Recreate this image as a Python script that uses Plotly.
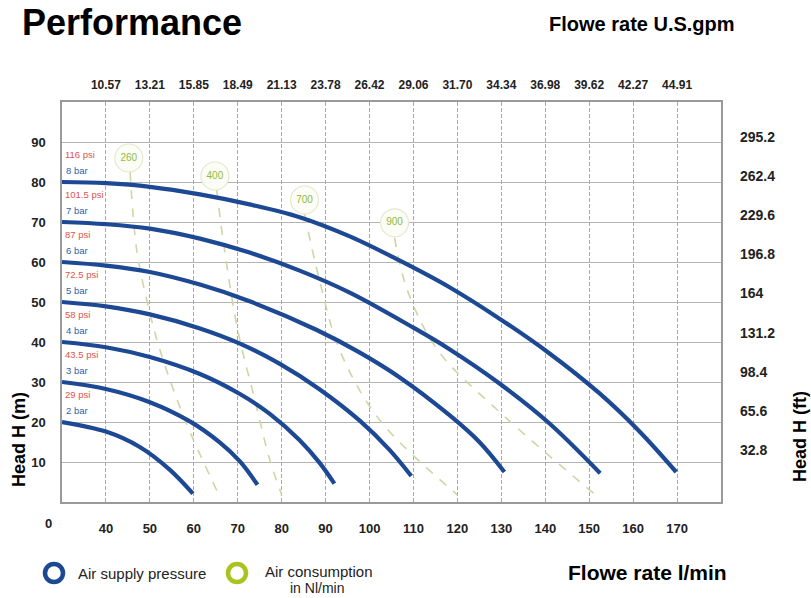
import plotly.graph_objects as go

# ---------------------------------------------------------------- data
# Flow axis: the first grid cell holds 0-40 l/min, the rest is linear
flow_ticks = [40, 50, 60, 70, 80, 90, 100, 110, 120, 130, 140, 150, 160, 170]
gpm_ticks = ["10.57", "13.21", "15.85", "18.49", "21.13", "23.78", "26.42",
             "29.06", "31.70", "34.34", "36.98", "39.62", "42.27", "44.91"]
head_m_ticks = [10, 20, 30, 40, 50, 60, 70, 80, 90]
head_ft_ticks = ["32.8", "65.6", "98.4", "131.2", "164", "196.8", "229.6", "262.4", "295.2"]

bar_labels = ["8 bar", "7 bar", "6 bar", "5 bar", "4 bar", "3 bar", "2 bar"]
psi_labels = ["116 psi", "101.5 psi", "87 psi", "72.5 psi", "58 psi", "43.5 psi", "29 psi"]

# Head (m) against flow (l/min) for each air supply pressure
flow_8bar = [0, 40, 50, 61.4, 72.7, 84.1, 95.5, 106.8, 118.2, 129.5, 140.9, 152.3, 161.4, 169.8]
head_8bar = [80, 79.7, 78.8, 76.9, 74.4, 71.2, 66.4, 60.4, 53.7, 45.9, 37.2, 27.2, 17.7, 7.5]
flow_7bar = [0, 40, 50, 61.4, 72.7, 84.1, 95.5, 109.8, 118.2, 129.5, 140.9, 152.5]
head_7bar = [70, 69.45, 68.35, 65.85, 62.35, 57.85, 52.35, 43.7, 38.2, 29.7, 19.7, 7.2]
flow_6bar = [0, 40, 50, 61.4, 72.7, 88, 97.7, 106.8, 118.2, 125, 130.7]
head_6bar = [60, 59.1, 57.5, 54.35, 50.2, 43.0, 37.4, 31.2, 21.7, 15.0, 7.5]
flow_5bar = [0, 40, 50, 61.4, 70.5, 79.5, 88.6, 97.7, 104.5, 109.5]
head_5bar = [50, 48.9, 46.9, 43.4, 39.6, 34.6, 28.2, 20.4, 13.1, 6.5]
flow_4bar = [0, 40, 50, 61.4, 70.5, 77.3, 84.1, 88.6, 92.0]
head_4bar = [40, 38.7, 36.25, 32, 27, 22.05, 15.45, 9.85, 4.6]
flow_3bar = [0, 40, 50, 59.1, 65.9, 70.5, 74.5]
head_3bar = [30, 28.25, 24.95, 20.15, 14.9, 10.15, 4.3]
flow_2bar = [0, 40, 47.7, 54.5, 59.8]
head_2bar = [20, 17.6, 13.75, 8.1, 2.1]

pressure_flows = [flow_8bar, flow_7bar, flow_6bar, flow_5bar, flow_4bar, flow_3bar, flow_2bar]
pressure_heads = [head_8bar, head_7bar, head_6bar, head_5bar, head_4bar, head_3bar, head_2bar]

# Air consumption (Nl/min) iso-lines
air_labels = ["260", "400", "700", "900"]
air_label_flow = [45.2, 64.8, 85.2, 105.7]
air_label_head = [86, 81.5, 75.5, 69.8]
air_flow_260 = [45.5, 47, 49.3, 52.3, 58, 65.7]
air_head_260 = [82.5, 63, 50.5, 38, 20.5, 1.8]
air_flow_400 = [65.2, 67, 70, 73.9, 77.3, 80]
air_head_400 = [78, 63, 43, 25.5, 10.5, 1.8]
air_flow_700 = [85.2, 88.6, 93.2, 102.3, 120]
air_head_700 = [72, 55.5, 38, 20.5, 1.8]
air_flow_900 = [105.7, 108.6, 115.5, 129.1, 151.4]
air_head_900 = [66, 53, 38, 23, 1.8]
air_flows = [air_flow_260, air_flow_400, air_flow_700, air_flow_900]
air_heads = [air_head_260, air_head_400, air_head_700, air_head_900]


def axis_x(q):
    """Map a flow in l/min onto the chart's broken flow axis."""
    return 30 + q / 4 if q < 40 else q


# ---------------------------------------------------------------- layout helpers
W, H = 811, 598
L, R, T, B = 62, 90, 102, 96
PW, PH = W - L - R, H - T - B


def px(x):
    return (x - L) / PW


def py(y):
    return (T + PH - y) / PH


BLUE = "#1c4894"
GREEN = "#a9c41f"
FONT = "Liberation Sans, Arial, sans-serif"

fig = go.Figure()

for fl, hd in zip(air_flows, air_heads):
    fig.add_trace(go.Scatter(
        x=[axis_x(q) for q in fl], y=hd, mode="lines", line_shape="spline",
        line=dict(color="#cdd7a4", width=1.6, dash="dash"),
        hoverinfo="skip", showlegend=False))

for fl, hd in zip(pressure_flows, pressure_heads):
    fig.add_trace(go.Scatter(
        x=[axis_x(q) for q in fl], y=hd, mode="lines", line_shape="spline",
        line=dict(color=BLUE, width=4.2, smoothing=1.0),
        hoverinfo="skip", showlegend=False))

fig.add_trace(go.Scatter(
    x=[axis_x(q) for q in air_label_flow], y=air_label_head,
    mode="markers+text", text=air_labels, textposition="middle center",
    textfont=dict(family=FONT, size=10, color="#8dbb3c"),
    marker=dict(size=28, color="rgba(252,253,246,0.95)",
                line=dict(color="#e3e9cf", width=1.2)),
    hoverinfo="skip", showlegend=False))

# secondary axes carry the U.S. gpm and feet scales
fig.add_trace(go.Scatter(x=[None], y=[None], xaxis="x2", yaxis="y2",
                         showlegend=False, hoverinfo="skip"))

tick_font = dict(family=FONT, size=13, color="#222222", weight="bold")

fig.update_layout(
    width=W, height=H,
    margin=dict(l=L, r=R, t=T, b=B),
    paper_bgcolor="white", plot_bgcolor="white",
    showlegend=False,
    xaxis=dict(range=[30, 180], tickvals=flow_ticks, ticktext=[str(v) for v in flow_ticks],
               showgrid=True, gridcolor="#a8a8a8", gridwidth=1, griddash="4px,2px",
               showline=True, mirror=True, linecolor="#9a9a9a", linewidth=1.5,
               zeroline=False, ticks="", ticklabelstandoff=14, tickfont=tick_font),
    xaxis2=dict(range=[30, 180], overlaying="x", side="top", tickvals=flow_ticks,
                ticktext=gpm_ticks, showgrid=False, showline=False, zeroline=False,
                ticks="", ticklabelstandoff=10,
                tickfont=dict(family=FONT, size=12, color="#222222", weight="bold")),
    yaxis=dict(range=[0, 100], tickvals=head_m_ticks, ticktext=[str(v) for v in head_m_ticks],
               showgrid=True, gridcolor="#b4b4b4", gridwidth=1,
               showline=True, mirror=True, linecolor="#9a9a9a", linewidth=1.5,
               zeroline=False, ticks="", ticklabelstandoff=12, tickfont=tick_font),
    yaxis2=dict(range=[-3.3, 98.95], overlaying="y", side="right", tickvals=head_m_ticks,
                ticktext=head_ft_ticks, showgrid=False, showline=False, zeroline=False,
                ticks="", ticklabelstandoff=18,
                tickfont=dict(family=FONT, size=14, color="#222222", weight="bold")),
)

ann = []
# pressure tags at the start of each curve
for i, (b, p) in enumerate(zip(bar_labels, psi_labels)):
    h0 = pressure_heads[i][0]
    ann.append(dict(x=30.2, y=h0 + 7, xref="x", yref="y", text=p, showarrow=False,
                    xanchor="left", yanchor="middle",
                    font=dict(family=FONT, size=9.5, color="#e0544f")))
    ann.append(dict(x=30.5, y=h0 + 2.8, xref="x", yref="y", text=b, showarrow=False,
                    xanchor="left", yanchor="middle",
                    font=dict(family=FONT, size=9.5, color="#2f5fa8")))

ann += [
    dict(x=px(48), y=py(523), xref="paper", yref="paper", text="0", showarrow=False,
         xanchor="center", yanchor="middle", font=tick_font),
    dict(x=px(20), y=py(22), xref="paper", yref="paper", text="Performance", showarrow=False,
         xanchor="left", yanchor="middle",
         font=dict(family=FONT, size=36, color="black", weight="bold")),
    dict(x=px(547), y=py(24), xref="paper", yref="paper", text="Flowe rate U.S.gpm",
         showarrow=False, xanchor="left", yanchor="middle",
         font=dict(family=FONT, size=20, color="black", weight="bold")),
    dict(x=px(566), y=py(572), xref="paper", yref="paper", text="Flowe rate l/min",
         showarrow=False, xanchor="left", yanchor="middle",
         font=dict(family=FONT, size=21, color="black", weight="bold")),
    dict(x=px(19), y=py(440), xref="paper", yref="paper", text="Head H (m)",
         showarrow=False, textangle=-90, xanchor="center", yanchor="middle",
         font=dict(family=FONT, size=18, color="black", weight="bold")),
    dict(x=px(800), y=py(437), xref="paper", yref="paper", text="Head H (ft)",
         showarrow=False, textangle=-90, xanchor="center", yanchor="middle",
         font=dict(family=FONT, size=18, color="black", weight="bold")),
    dict(x=px(76), y=py(573), xref="paper", yref="paper", text="Air supply pressure",
         showarrow=False, xanchor="left", yanchor="middle",
         font=dict(family=FONT, size=15, color="#222222")),
    dict(x=px(263), y=py(571), xref="paper", yref="paper", text="Air consumption",
         showarrow=False, xanchor="left", yanchor="middle",
         font=dict(family=FONT, size=15, color="#222222")),
    dict(x=px(317), y=py(588), xref="paper", yref="paper", text="in Nl/min",
         showarrow=False, xanchor="center", yanchor="middle",
         font=dict(family=FONT, size=14, color="#222222")),
]
fig.update_layout(annotations=ann)

# legend rings
shapes = []
for cx, col in [(54, BLUE), (237, GREEN)]:
    shapes.append(dict(type="circle", xref="paper", yref="paper",
                       xsizemode="pixel", ysizemode="pixel",
                       xanchor=px(cx), yanchor=py(573),
                       x0=-9, x1=9, y0=-9, y1=9,
                       line=dict(color=col, width=4.5), fillcolor="white"))
fig.update_layout(shapes=shapes)

fig.write_html("out.html")
